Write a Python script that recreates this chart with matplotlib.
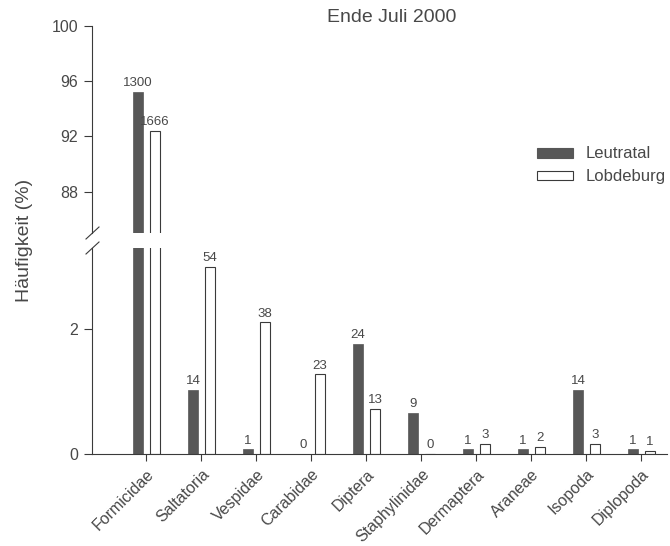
import numpy as np
import matplotlib
matplotlib.use("Agg")
import matplotlib.pyplot as plt

plt.rcParams['font.family'] = ['Liberation Sans', 'DejaVu Sans']

# counts per taxon, late July 2000
taxa = ["Formicidae", "Saltatoria", "Vespidae", "Carabidae", "Diptera",
        "Staphylinidae", "Dermaptera", "Araneae", "Isopoda", "Diplopoda"]
leutratal = [1300, 14, 1, 0, 24, 9, 1, 1, 14, 1]
lobdeburg = [1666, 54, 38, 23, 13, 0, 3, 2, 3, 1]

# bar heights are the share of each site's total catch
pct_leu = [c / sum(leutratal) * 100 for c in leutratal]
pct_lob = [c / sum(lobdeburg) * 100 for c in lobdeburg]

dark = "#575757"
ink = "#3a3a3a"
txt = "#484848"

fig = plt.figure(figsize=(6.7, 5.46), dpi=100)
left, right = 92 / 670, 0.995
ax_top = fig.add_axes([left, 1 - 233 / 546, right - left, (233 - 26) / 546])
ax_bot = fig.add_axes([left, 1 - 454 / 546, right - left, (454 - 248) / 546])

x = np.arange(len(taxa))
w = 0.18
for ax in (ax_top, ax_bot):
    ax.bar(x - 0.15, pct_leu, w, color=dark, edgecolor=dark, linewidth=0.5)
    ax.bar(x + 0.155, pct_lob, w, color="white", edgecolor=ink, linewidth=0.8)
    ax.set_xlim(-0.99, 9.46)
    for s in ("top", "right"):
        ax.spines[s].set_visible(False)
    ax.spines["left"].set_color(ink)
    ax.spines["left"].set_linewidth(0.8)
    ax.tick_params(axis="y", direction="out", length=6, width=0.8,
                   colors=ink, labelcolor=txt, labelsize=11.5, pad=4)

ax_top.set_ylim(85, 100)
ax_top.set_yticks([88, 92, 96, 100])
ax_top.spines["bottom"].set_visible(False)
ax_top.set_xticks([])

ax_bot.set_ylim(0, 3.3)
ax_bot.set_yticks([0, 2])
ax_bot.spines["bottom"].set_color(ink)
ax_bot.spines["bottom"].set_linewidth(0.8)
ax_bot.set_xticks(x)
ax_bot.set_xticklabels(taxa, rotation=45, ha="right", rotation_mode="anchor",
                       fontsize=11.5, color=txt)
ax_bot.tick_params(axis="x", direction="out", length=5, width=0.8,
                   colors=ink, labelcolor=txt, pad=4)

# count labels above the bars
for i in range(len(taxa)):
    for xs, p, c in ((x[i] - 0.15, pct_leu[i], leutratal[i]),
                     (x[i] + 0.155, pct_lob[i], lobdeburg[i])):
        ax = ax_top if p > 85 else ax_bot
        ax.annotate(str(c), (xs, p), xytext=(0, 2), textcoords="offset points",
                    ha="center", va="bottom", fontsize=9.5, color=txt)

# axis break marks
for yy in (233, 248):
    fig.add_artist(plt.Line2D([86 / 670, 99 / 670],
                              [1 - (yy + 6) / 546, 1 - (yy - 6) / 546],
                              color=ink, linewidth=0.8))

fig.text(25 / 670, 1 - 240 / 546, "Häufigkeit (%)", rotation=90,
         ha="center", va="center", fontsize=14, color=txt)
fig.text(392 / 670, 1 - 17 / 546, "Ende Juli 2000", ha="center", va="center",
         fontsize=14, color=txt)

# legend boxes
for yy, fc, label in ((153, dark, "Leutratal"), (176, "white", "Lobdeburg")):
    fig.add_artist(plt.Rectangle((537 / 670, 1 - (yy + 4.5) / 546), 36 / 670,
                                 9 / 546, facecolor=fc,
                                 edgecolor=dark if fc == dark else ink,
                                 linewidth=0.8))
    fig.text(586 / 670, 1 - yy / 546, label, ha="left", va="center",
             fontsize=12, color=txt)

fig.savefig("out.png", dpi=100, facecolor="white")
